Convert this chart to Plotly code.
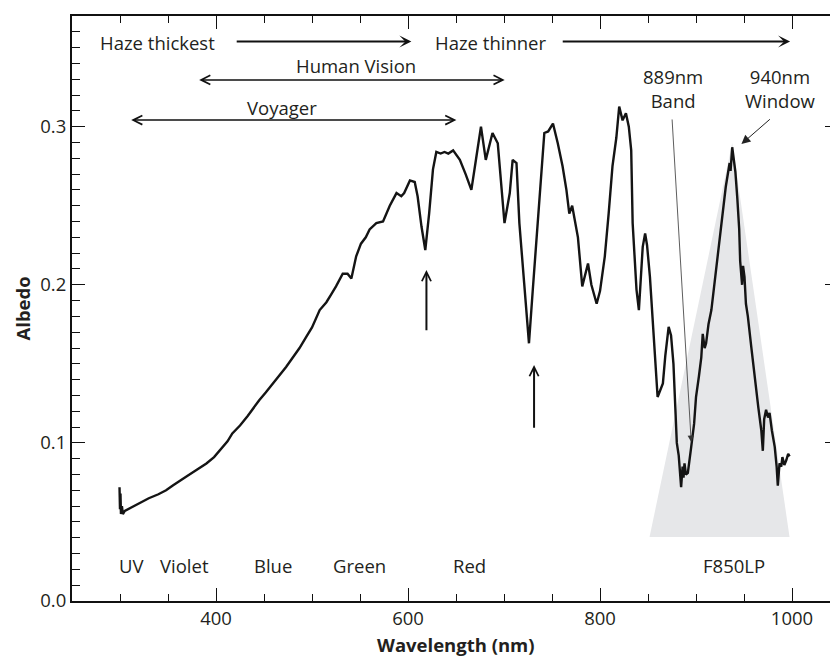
import plotly.graph_objects as go

# ---------------- data ----------------
wavelength_nm = [
    299.5, 300, 300.5, 301, 302, 303, 305, 308, 313, 320, 330, 340, 348, 355, 362, 370, 380, 390,
    398, 405, 412, 417, 425, 433, 440, 445, 452, 460, 467, 473, 480, 487, 494, 500, 508, 515, 520,
    525, 532, 537, 541, 546, 551, 556, 560, 567, 574, 581, 588, 593, 596, 602, 607, 610, 614, 618,
    622, 626, 629.5, 634, 638, 642, 647, 654, 660, 666, 671, 676, 681, 688, 693.5, 699, 700.5, 706,
    709, 713, 716, 721, 726, 730, 737, 742, 746, 751, 756, 761, 765, 768, 771, 773, 777, 781.5, 784,
    787.5, 791, 796.5, 800, 805, 809, 813, 817, 820, 823.5, 827, 830, 832.5, 834, 838, 840.5, 844.5,
    847, 849, 852, 857, 860, 865.5, 868, 871.5, 874, 876.5, 879, 880, 882, 883, 884.5, 886, 887, 888,
    889.5, 891.5, 893, 895, 898, 900, 903, 905.5, 907, 909, 910.5, 913, 916, 921, 926, 931, 935, 936,
    937.7, 939, 941, 943, 945, 946, 947, 948, 949, 950.5, 952, 954, 957.5, 960, 962.7, 965, 968,
    969.6, 971, 973, 975, 976.6, 979, 982, 984, 985.2, 987, 988.8, 990, 992, 994, 996, 997.5,
]
albedo = [
    0.072, 0.058, 0.068, 0.055, 0.060, 0.055, 0.057, 0.058, 0.0595, 0.062, 0.065, 0.0675, 0.070,
    0.073, 0.076, 0.079, 0.083, 0.087, 0.091, 0.096, 0.101, 0.106, 0.111, 0.117, 0.123, 0.127, 0.132,
    0.138, 0.143, 0.148, 0.154, 0.160, 0.167, 0.173, 0.184, 0.189, 0.194, 0.199, 0.207, 0.207, 0.204,
    0.218, 0.226, 0.230, 0.235, 0.239, 0.240, 0.250, 0.258, 0.256, 0.258, 0.266, 0.265, 0.256, 0.237,
    0.222, 0.245, 0.273, 0.284, 0.283, 0.284, 0.283, 0.285, 0.279, 0.270, 0.260, 0.280, 0.300, 0.279,
    0.296, 0.2895, 0.2515, 0.239, 0.258, 0.279, 0.277, 0.239, 0.201, 0.163, 0.197, 0.254, 0.296,
    0.297, 0.302, 0.2895, 0.275, 0.260, 0.245, 0.250, 0.243, 0.230, 0.199, 0.205, 0.2135, 0.200,
    0.188, 0.196, 0.218, 0.245, 0.275, 0.293, 0.3127, 0.304, 0.3085, 0.300, 0.285, 0.239, 0.197,
    0.184, 0.224, 0.2325, 0.225, 0.205, 0.159, 0.129, 0.1376, 0.155, 0.1734, 0.168, 0.150, 0.110,
    0.100, 0.092, 0.082, 0.072, 0.085, 0.078, 0.087, 0.080, 0.081, 0.090, 0.0975, 0.112, 0.129,
    0.142, 0.154, 0.169, 0.160, 0.163, 0.175, 0.184, 0.209, 0.235, 0.262, 0.277, 0.272, 0.287, 0.280,
    0.2715, 0.255, 0.235, 0.215, 0.209, 0.200, 0.212, 0.205, 0.188, 0.180, 0.161, 0.147, 0.133,
    0.122, 0.108, 0.095, 0.115, 0.121, 0.116, 0.119, 0.108, 0.0975, 0.085, 0.073, 0.087, 0.085,
    0.091, 0.086, 0.089, 0.093, 0.0915,
]

# F850LP filter transmission sketch (triangle)
filter_nm = [851.6, 937.7, 997.4, 851.6]
filter_level = [0.0405, 0.2897, 0.0405, 0.0405]

# colour-band labels along the bottom
band_labels = ["UV", "Violet", "Blue", "Green", "Red", "F850LP"]
band_nm = [312.2, 367.7, 459.0, 549.7, 664.3, 940.0]
band_level = 0.0226

x_tick_vals = [400, 600, 800, 1000]
y_tick_vals = [0.0, 0.1, 0.2, 0.3]

FONT = "Open Sans"
FS = 18.5

fig = go.Figure()

fig.add_trace(go.Scatter(
    x=filter_nm, y=filter_level, mode="lines", fill="toself",
    fillcolor="#e6e7e9", line=dict(width=0, color="#e6e7e9"),
    hoverinfo="skip", showlegend=False,
))

fig.add_trace(go.Scatter(
    x=wavelength_nm, y=albedo, mode="lines",
    line=dict(color="#141414", width=2.4),
    showlegend=False,
))

ann = []

def text(t, x, y, size=FS):
    ann.append(dict(text=t, x=x, y=y, xref="x", yref="y", showarrow=False,
                    font=dict(family=FONT, size=size, color="#231f20"),
                    xanchor="center", yanchor="middle"))

def arrow(x0, y0, x1, y1, head, width, size, both=False, color="#111"):
    d = dict(text="", x=x1, y=y1, ax=x0, ay=y0, xref="x", yref="y",
             axref="x", ayref="y", showarrow=True, arrowhead=head,
             arrowwidth=width, arrowsize=size, arrowcolor=color)
    if both:
        d.update(arrowside="end+start", startarrowhead=head, startarrowsize=size)
    ann.append(d)

# top annotations
text("Haze thickest", 339.3, 0.3530)
arrow(420, 0.3538, 603.5, 0.3538, 3, 2, 1.0)
text("Haze thinner", 686.1, 0.3530)
arrow(759.6, 0.3538, 998, 0.3538, 3, 2, 1.0)
text("Human Vision", 545.5, 0.3390)
arrow(380.9, 0.3296, 700.7, 0.3296, 5, 1.5, 1.2, both=True)
text("Voyager", 468.4, 0.3120)
arrow(310.1, 0.3042, 650.4, 0.3042, 5, 1.5, 1.2, both=True)

# absorption markers
arrow(619.2, 0.1703, 619.2, 0.2093, 5, 2, 0.9)
arrow(731.3, 0.1087, 731.3, 0.1492, 5, 2, 0.9)

# 889 / 940 labels
text("889nm<br>Band", 876.0, 0.3240)
arrow(875.0, 0.3055, 895.0, 0.1006, 2, 0.8, 1.6, color="#333")
text("940nm<br>Window", 987.9, 0.3240)
arrow(978.5, 0.3055, 947.3, 0.2890, 2, 1, 1.8, color="#222")

for lab, xv in zip(band_labels, band_nm):
    text(lab, xv, band_level)

# axis titles
ann.append(dict(text="<b>Wavelength (nm)</b>", x=0.501, y=0, xref="paper", yref="paper",
                yshift=-43, showarrow=False, xanchor="center", yanchor="middle",
                font=dict(family=FONT, size=FS, color="#231f20")))
ann.append(dict(text="<b>Albedo</b>", x=0, y=0.5, xref="paper", yref="paper",
                xshift=-50, showarrow=False, xanchor="center", yanchor="middle",
                textangle=-90, font=dict(family=FONT, size=FS, color="#231f20")))

# the page body has an 8px default margin, so the figure is sized to fit the window
fig.update_layout(
    width=830, height=648,
    margin=dict(l=64, r=0, t=8, b=55, autoexpand=False),
    paper_bgcolor="white", plot_bgcolor="white",
    font=dict(family=FONT, size=FS, color="#231f20"),
    annotations=ann,
    xaxis=dict(
        range=[250, 1047.9], tickvals=x_tick_vals, ticks="inside", ticklen=13,
        tickwidth=1.2, tickcolor="#111", showline=True, linecolor="#111", linewidth=1.6,
        mirror="ticks", showgrid=False, zeroline=False, automargin=False,
        minor=dict(dtick=50, tick0=0, ticks="inside", ticklen=7, tickwidth=1.1,
                   tickcolor="#111", showgrid=False),
        tickfont=dict(family=FONT, size=FS),
    ),
    yaxis=dict(
        range=[0, 0.37], tickvals=y_tick_vals, tickformat=".1f", ticks="inside",
        ticklen=13, tickwidth=1.2, tickcolor="#111", showline=True, linecolor="#111",
        linewidth=2, mirror="ticks", showgrid=False, zeroline=False, automargin=False,
        minor=dict(dtick=0.01, tick0=0, ticks="inside", ticklen=7.5, tickwidth=1.1,
                   tickcolor="#111", showgrid=False),
        tickfont=dict(family=FONT, size=FS),
    ),
)

fig.write_html("out.html")
